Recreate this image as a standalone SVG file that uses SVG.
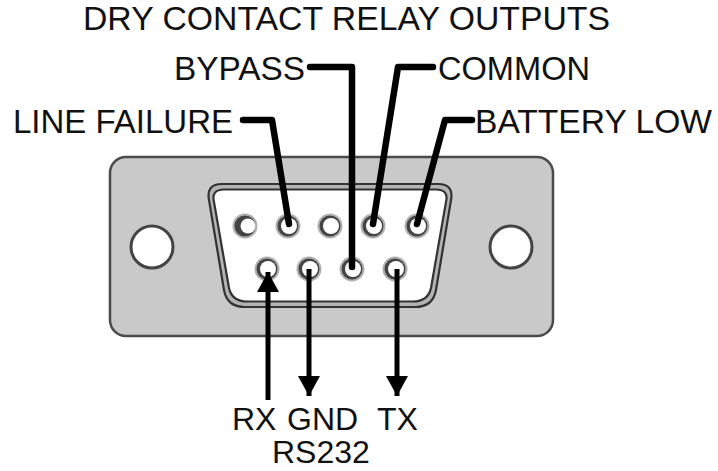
<svg xmlns="http://www.w3.org/2000/svg" width="718" height="471" viewBox="0 0 718 471">
<style>
.lbl{font-family:"Liberation Sans",Arial,sans-serif;font-size:32px;fill:#111}
.top{font-size:33px}
.lead{fill:none;stroke:#000;stroke-width:6.5;stroke-linejoin:round;stroke-linecap:round}
.arr{fill:none;stroke:#000;stroke-width:5}
.ring{fill:#444}
.halo{fill:#b0b0b0}
.hole{fill:#fff}
</style>
<defs>
<marker id="ah" markerUnits="userSpaceOnUse" markerWidth="24" markerHeight="22" refX="20" refY="11" orient="auto" viewBox="0 0 22 22">
<path d="M0,0 L20,11 L0,22 Z" fill="#000"/>
</marker>
<g id="pinshape">
<circle r="12.5" class="halo"/>
<circle r="10.5" class="ring"/>
<circle cx="1" r="8" class="hole"/>
</g>
</defs>
<rect width="718" height="471" fill="#fff"/>
<g id="plate">
<rect x="110" y="157" width="443" height="179" rx="16" ry="16" fill="#c9c9c9" stroke="#4a4a4a" stroke-width="2.5"/>
<circle cx="152" cy="247" r="21" fill="#fff" stroke="#444" stroke-width="3"/>
<circle cx="511" cy="247" r="21" fill="#fff" stroke="#444" stroke-width="3"/>
</g>
<g id="shell">
<path d="M222,184 L438,184 Q454,184 451,200 L436,290 Q433,307 415,307 L245,307 Q227,307 224,290 L209,200 Q206,184 222,184 Z" fill="#b4b4b4" stroke="#333" stroke-width="2.2"/>
<path d="M224,189.5 L436,189.5 Q449,189.5 446,202 L431,288 Q428,301.5 413,301.5 L247,301.5 Q232,301.5 229,288 L214,202 Q211,189.5 224,189.5 Z" fill="#fff" stroke="#333" stroke-width="2.2"/>
</g>
<g id="pins">
<g transform="translate(245,226)"><circle r="12.5" class="halo"/><circle r="10.5" class="ring"/><circle cx="3" r="7.5" class="hole"/></g>
<use href="#pinshape" x="288" y="226"/>
<use href="#pinshape" x="330" y="226"/>
<use href="#pinshape" x="373" y="226"/>
<use href="#pinshape" x="417" y="226"/>
<use href="#pinshape" x="267" y="269"/>
<use href="#pinshape" x="309" y="269"/>
<use href="#pinshape" x="352" y="269"/>
<use href="#pinshape" x="395" y="269"/>
</g>
<g id="connectors">
<path id="c-line-failure" class="lead" d="M243,120 L272,120 L289,224"/>
<path id="c-bypass" class="lead" d="M310,67 L352,67 L352,267"/>
<path id="c-common" class="lead" d="M433,67 L398,67 L373,224"/>
<path id="c-battery-low" class="lead" d="M472,120 L445,120 L417,224"/>
<line id="c-rx" class="arr" x1="268" y1="400" x2="268" y2="272" marker-end="url(#ah)"/>
<line id="c-gnd" class="arr" x1="309" y1="269" x2="309" y2="396" marker-end="url(#ah)"/>
<line id="c-tx" class="arr" x1="397" y1="269" x2="397" y2="396" marker-end="url(#ah)"/>
</g>
<g id="labels">
<text id="title" class="lbl" x="83" y="30" style="font-size:33.5px" textLength="527" lengthAdjust="spacingAndGlyphs">DRY CONTACT RELAY OUTPUTS</text>
<text id="t-bypass" class="lbl top" x="174" y="80" textLength="131" lengthAdjust="spacingAndGlyphs">BYPASS</text>
<text id="t-common" class="lbl top" x="438" y="80" textLength="152" lengthAdjust="spacingAndGlyphs">COMMON</text>
<text id="t-line-failure" class="lbl top" x="13" y="133" textLength="220" lengthAdjust="spacingAndGlyphs">LINE FAILURE</text>
<text id="t-battery-low" class="lbl top" x="475" y="133" textLength="237" lengthAdjust="spacingAndGlyphs">BATTERY LOW</text>
<text id="t-rx" class="lbl" x="232" y="430">RX</text>
<text id="t-gnd" class="lbl" x="287" y="430">GND</text>
<text id="t-tx" class="lbl" x="377" y="430">TX</text>
<text id="t-rs232" class="lbl" x="272" y="463">RS232</text>
</g>
</svg>
